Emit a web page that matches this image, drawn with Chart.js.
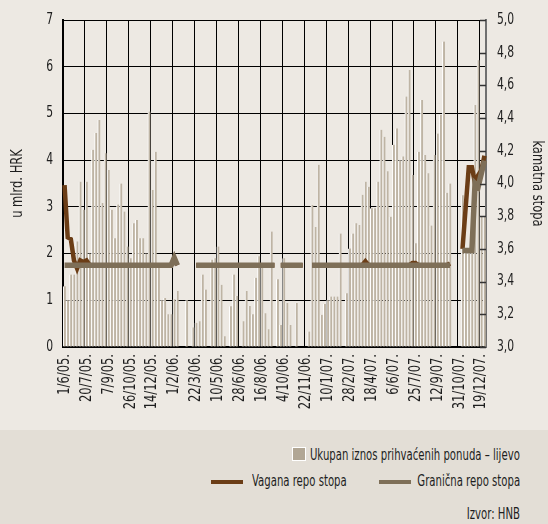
<!DOCTYPE html>
<html>
<head>
<meta charset="utf-8">
<script src="https://cdn.jsdelivr.net/npm/chart.js@4.4.1/dist/chart.umd.min.js"></script>
<style>
body { margin:0; background:#ede9e3; font-family:'Liberation Sans Narrow','DejaVu Sans Condensed',sans-serif; }
#wrap { position:relative; width:548px; height:524px; overflow:hidden; }
#chart { position:absolute; left:0; top:0; }
#foot { position:absolute; left:0; top:430px; width:548px; height:94px; background:#e3ded6; }
.txt { position:absolute; font-size:15px; line-height:16px; color:#1e1e1e; white-space:nowrap; transform:scaleX(0.75); }
.r { transform-origin:right center; }
.l { transform-origin:left center; }
.sw { position:absolute; }
</style>
</head>
<body>
<div id="wrap">
  <canvas id="chart" width="548" height="430"></canvas>
  <div id="foot">
    <div class="sw" style="left:292px;top:17px;width:12px;height:12px;background:#b1a694;border:1px solid #fff"></div>
    <div class="txt r" style="right:28px;top:17px">Ukupan iznos prihvaćenih ponuda – lijevo</div>
    <div class="sw" style="left:211px;top:50px;width:32px;height:4px;background:#6b3d16"></div>
    <div class="txt l" style="left:252px;top:43px">Vagana repo stopa</div>
    <div class="sw" style="left:379px;top:50px;width:32px;height:4px;background:#7e6f58"></div>
    <div class="txt r" style="right:28px;top:43px">Granična repo stopa</div>
    <div class="txt r" style="right:28px;top:76px">Izvor: HNB</div>
  </div>
</div>
<script>
// weekly repo auctions, 1/6/05 - 26/12/07
const tickLabels = ['1/6/05.', '20/7/05.', '7/9/05.', '26/10/05.', '14/12/05.', '1/2/06.', '22/3/06.',
  '10/5/06.', '28/6/06.', '16/8/06.', '4/10/06.', '22/11/06.', '10/1/07.', '28/2/07.', '18/4/07.',
  '6/6/07.', '25/7/07.', '12/9/07.', '31/10/07.', '19/12/07.']

// u mlrd. HRK
const ponude = [
  1.3, 1.0, 1.55, 1.55, 2.26, 3.54, 2.94, 3.54, 2.0, 4.22,
  4.58, 4.86, 3.08, 4.15, 3.79, 2.94, 2.33, 3.05, 3.5, 2.9,
  2.15, 1.9, 2.65, 2.72, 2.33, 2.33, 2.0, 5.04, 3.36, 4.18,
  1.7, 1.0, 1.05, 0.7, 0.7, 1.02, 1.2, null, null, 1.0,
  null, 0.42, 0.52, 0.55, 1.55, 1.23, null, 1.87, 1.9, 2.15,
  1.33, 0.23, null, 0.87, 1.55, 1.09, null, 0.55, 1.2, 0.88,
  0.7, 1.48, 1.94, 1.76, 0.72, 0.38, 2.47, null, 1.45, 0.47,
  1.9, 0.94, 0.47, null, 0.94, null, null, null, 0.33, 3.04,
  2.57, 3.9, 0.69, 0.92, 1.0, 1.08, 1.08, 1.08, 2.43, null,
  1.15, 2.11, 2.43, 2.65, 2.61, 3.26, 3.54, 3.43, 2.97, 2.97,
  3.54, 4.65, 4.5, 3.76, 2.79, 4.33, 4.68, 4.0, 4.08, 5.36,
  5.93, 3.68, 2.22, 4.18, 5.29, 4.11, 3.72, 2.6, 4.11, 4.57,
  4.97, 6.54, 3.3, 3.5, null, null, null, 3.25, 2.08, 2.08,
  2.1, 5.18, 6.14, 2.8, 2.8]

// kamatna stopa, %
const vagana = [
  3.99, 3.67, 3.66, 3.53, 3.48, 3.53, 3.52, 3.53, 3.5, 3.5,
  3.5, 3.5, 3.5, 3.5, 3.5, 3.5, 3.5, 3.5, 3.5, 3.5,
  3.5, 3.5, 3.5, 3.5, 3.5, 3.5, 3.5, 3.5, 3.5, 3.5,
  3.5, 3.5, 3.5, 3.5, 3.5, 3.54, 3.5, null, null, null,
  null, null, 3.5, 3.5, 3.5, 3.5, 3.5, 3.5, 3.5, 3.5,
  3.5, 3.5, 3.5, 3.5, 3.5, 3.5, 3.5, 3.5, 3.5, 3.5,
  3.5, 3.5, 3.5, 3.5, 3.5, 3.5, 3.5, 3.5, null, 3.5,
  3.5, 3.5, 3.5, 3.5, 3.5, 3.5, 3.5, null, null, 3.5,
  3.5, 3.5, 3.5, 3.5, 3.5, 3.5, 3.5, 3.5, 3.5, 3.5,
  3.5, 3.5, 3.5, 3.5, 3.5, 3.5, 3.524, 3.5, 3.5, 3.5,
  3.5, 3.5, 3.5, 3.5, 3.5, 3.5, 3.5, 3.5, 3.5, 3.5,
  3.5, 3.513, 3.513, 3.5, 3.5, 3.5, 3.5, 3.5, 3.5, 3.5,
  3.5, 3.5, 3.5, 3.51, null, null, null, 3.6, 3.85, 4.1,
  4.1, 4.0, 4.05, 4.08, 4.17]

const granicna = [
  3.5, 3.5, 3.5, 3.5, 3.5, 3.5, 3.5, 3.5, 3.5, 3.5,
  3.5, 3.5, 3.5, 3.5, 3.5, 3.5, 3.5, 3.5, 3.5, 3.5,
  3.5, 3.5, 3.5, 3.5, 3.5, 3.5, 3.5, 3.5, 3.5, 3.5,
  3.5, 3.5, 3.5, 3.5, 3.5, 3.545, 3.5, null, null, null,
  null, null, 3.5, 3.5, 3.5, 3.5, 3.5, 3.5, 3.5, 3.5,
  3.5, 3.5, 3.5, 3.5, 3.5, 3.5, 3.5, 3.5, 3.5, 3.5,
  3.5, 3.5, 3.5, 3.5, 3.5, 3.5, 3.5, 3.5, null, 3.5,
  3.5, 3.5, 3.5, 3.5, 3.5, 3.5, 3.5, null, null, 3.5,
  3.5, 3.5, 3.5, 3.5, 3.5, 3.5, 3.5, 3.5, 3.5, 3.5,
  3.5, 3.5, 3.5, 3.5, 3.5, 3.5, 3.5, 3.5, 3.5, 3.5,
  3.5, 3.5, 3.5, 3.5, 3.5, 3.5, 3.5, 3.5, 3.5, 3.5,
  3.5, 3.5, 3.5, 3.5, 3.5, 3.5, 3.5, 3.5, 3.5, 3.5,
  3.5, 3.5, 3.5, 3.5, null, null, null, 3.59, 3.59, 3.59,
  3.59, 4.0, 3.98, 4.06, 4.14]

// one category per week
const weeks = []
for (let i = 0; i < ponude.length; i++) {
    let d = new Date(2005, 5, 1 + 7 * i)
    weeks.push(d.getDate() + '/' + (d.getMonth() + 1) + '/' + String(d.getFullYear()).slice(2) + '.')
}

const fontFamily = "'Liberation Sans Narrow', 'DejaVu Sans Condensed', sans-serif"
Chart.defaults.font.family = fontFamily
Chart.defaults.color = '#1e1e1e'

const canvas = document.getElementById('chart')

// the original uses a very narrow typeface: squeeze canvas text along its own direction
const ctx2d = canvas.getContext('2d')
const origFillText = ctx2d.fillText.bind(ctx2d)
ctx2d.fillText = function (text, x, y) {
    this.save()
    this.translate(x, y)
    this.scale(0.8, 1)
    origFillText(text, 0, 0)
    this.restore()
}

// small tick marks on the inner side of the right axis
const innerTicks = {
    id: 'innerTicks',
    afterDraw(chart) {
        const s = chart.scales.y1
        const ctx = chart.ctx
        ctx.save()
        ctx.strokeStyle = '#333'
        ctx.lineWidth = 1.5
        s.ticks.forEach(t => {
            let y = Math.round(s.getPixelForValue(t.value)) + 0.5
            ctx.beginPath()
            ctx.moveTo(s.left - 6, y)
            ctx.lineTo(s.left, y)
            ctx.stroke()
        })
        ctx.restore()
    }
}

const comma = v => Number(v).toFixed(1).replace('.', ',')

new Chart(canvas, {
    type: 'bar',
    data: {
        labels: weeks,
        datasets: [{
            label: 'Ukupan iznos prihvaćenih ponuda – lijevo',
            data: ponude,
            yAxisID: 'y',
            order: 3,
            backgroundColor: '#beb4a4',
            borderColor: '#ffffff',
            borderWidth: { left: 1, top: 0, right: 0, bottom: 0 },
            borderSkipped: false,
            barThickness: 2.6
        }, {
            type: 'line',
            label: 'Vagana repo stopa',
            data: vagana,
            yAxisID: 'y1',
            order: 2,
            borderColor: '#6b3d16',
            borderWidth: 4.5,
            borderJoinStyle: 'miter',
            pointRadius: 0,
            spanGaps: false,
            tension: 0
        }, {
            type: 'line',
            label: 'Granična repo stopa',
            data: granicna,
            yAxisID: 'y1',
            order: 1,
            borderColor: '#7e6f58',
            borderWidth: 5.5,
            borderJoinStyle: 'miter',
            pointRadius: 0,
            spanGaps: false,
            tension: 0
        }]
    },
    options: {
        responsive: false,
        animation: false,
        devicePixelRatio: 1,
        layout: { padding: { top: 20, right: 0, bottom: 0, left: 0 } },
        plugins: { legend: { display: false }, tooltip: { enabled: false } },
        scales: {
            x: {
                offset: true,
                grid: {
                    offset: true,
                    drawTicks: false,
                    lineWidth: 1,
                    color: c => (c.index % 7 === 0 && c.index > 0) ? '#000' : 'rgba(0,0,0,0)'
                },
                border: { color: '#000', width: 2 },
                ticks: {
                    autoSkip: false,
                    minRotation: 90,
                    maxRotation: 90,
                    padding: 7,
                    font: { size: 16 },
                    callback: (v, i) => i % 7 === 0 ? tickLabels[i / 7] : ''
                },
                afterFit: s => { s.height = 83 }
            },
            y: {
                position: 'left',
                min: 0,
                max: 7,
                ticks: { stepSize: 1, padding: 10, font: { size: 15 } },
                grid: { color: '#000', lineWidth: 1, drawTicks: false },
                border: { color: '#000', width: 2 },
                title: { display: true, text: 'u mlrd. HRK', font: { size: 16 }, padding: { top: 8, bottom: 0 } },
                afterFit: s => { s.width = 63 }
            },
            y1: {
                position: 'right',
                min: 3,
                max: 5,
                ticks: { stepSize: 0.2, padding: 11, font: { size: 15 }, callback: v => comma(v) },
                grid: { display: false, drawTicks: false },
                border: { color: '#707070', width: 2 },
                title: { display: true, text: 'kamatna stopa', font: { size: 16 }, padding: { top: 1, bottom: 0 } },
                afterFit: s => { s.width = 62 }
            }
        }
    },
    plugins: [innerTicks]
})
</script>
</body>
</html>
